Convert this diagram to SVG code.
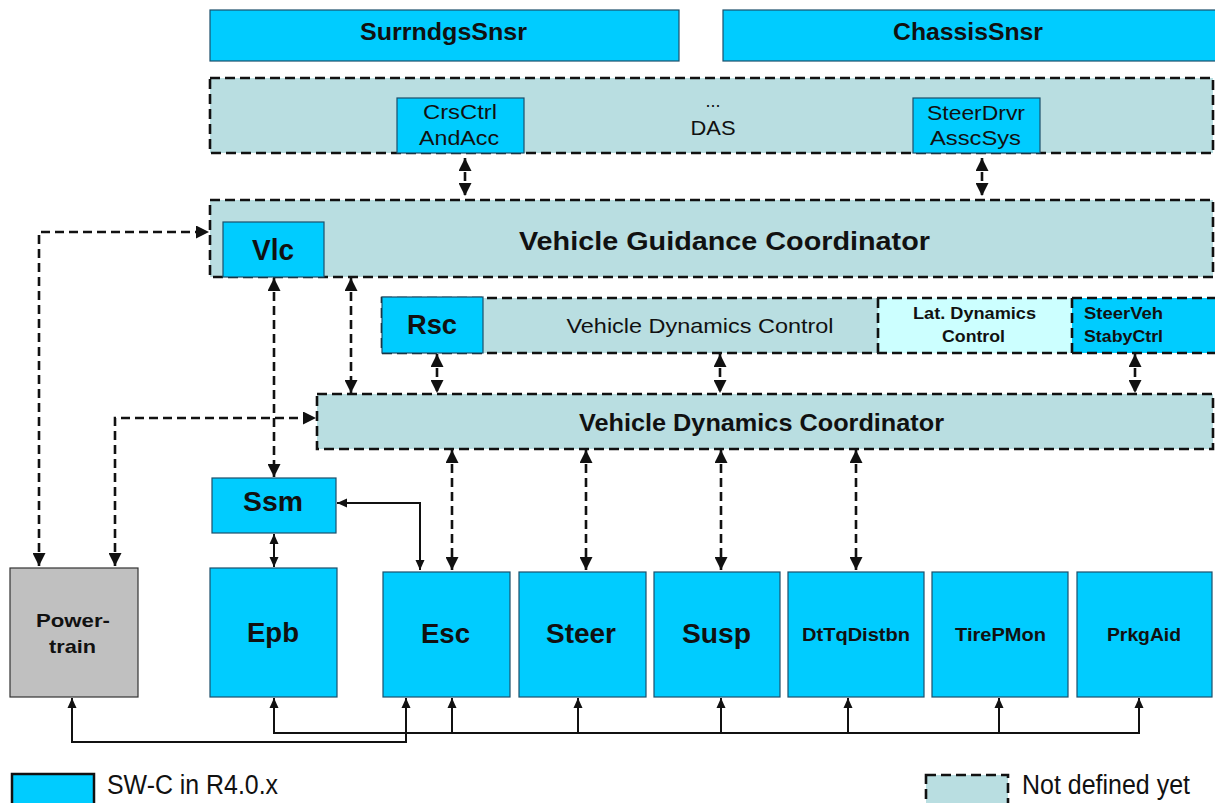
<svg xmlns="http://www.w3.org/2000/svg" width="1215" height="803" viewBox="0 0 1215 803">
<style>
text{font-family:"Liberation Sans",Arial,sans-serif;fill:#111;text-anchor:middle}
.b{font-weight:bold}
.swc{fill:#00ccff;stroke:#1b4f6b;stroke-width:1.2}
.nd{fill:#b9dee1;stroke:none}
.dash{fill:none;stroke:#111;stroke-width:2.6;stroke-dasharray:10 5}
.dl{fill:none;stroke:#111;stroke-width:2.6;stroke-dasharray:9 5;marker-start:url(#ah);marker-end:url(#ah)}
.sl{fill:none;stroke:#111;stroke-width:2}
</style>
<defs>
<marker id="ah" markerUnits="userSpaceOnUse" markerWidth="13" markerHeight="13" viewBox="0 0 12 12" refX="12" refY="6" orient="auto-start-reverse"><path d="M0,0 L12,6 L0,12 z" fill="#111"/></marker>
<marker id="as" markerUnits="userSpaceOnUse" markerWidth="10" markerHeight="10" viewBox="0 0 10 10" refX="10" refY="5" orient="auto-start-reverse"><path d="M0,0.5 L10,5 L0,9.5 z" fill="#111"/></marker>
</defs>

<g id="SurrndgsSnsr"><rect class="swc" x="210" y="10" width="469" height="51"/><text class="b" x="443.5" y="40" font-size="24" textLength="167" lengthAdjust="spacingAndGlyphs">SurrndgsSnsr</text></g>
<g id="ChassisSnsr"><rect class="swc" x="723" y="10" width="495" height="51"/><text class="b" x="968" y="40" font-size="24" textLength="150" lengthAdjust="spacingAndGlyphs">ChassisSnsr</text></g>

<g id="DAS"><rect class="nd" x="210" y="78" width="1003" height="75"/><rect class="dash" x="210" y="78" width="1003" height="75"/>
<text x="713" y="107" font-size="18">...</text><text x="713" y="135" font-size="20" textLength="45" lengthAdjust="spacingAndGlyphs">DAS</text></g>
<g id="CrsCtrlAndAcc"><rect class="swc" x="397" y="98" width="127" height="55"/><text x="460" y="119" font-size="20" textLength="74" lengthAdjust="spacingAndGlyphs">CrsCtrl</text><text x="459" y="145" font-size="20" textLength="80" lengthAdjust="spacingAndGlyphs">AndAcc</text></g>
<g id="SteerDrvrAsscSys"><rect class="swc" x="913" y="98" width="127" height="55"/><text x="976" y="120" font-size="20" textLength="98" lengthAdjust="spacingAndGlyphs">SteerDrvr</text><text x="975.5" y="145" font-size="20" textLength="91" lengthAdjust="spacingAndGlyphs">AsscSys</text></g>

<g id="VehicleGuidanceCoordinator"><rect class="nd" x="210" y="200" width="1003" height="77"/><rect class="dash" x="210" y="200" width="1003" height="77"/><text class="b" x="724.5" y="250" font-size="26" textLength="411" lengthAdjust="spacingAndGlyphs">Vehicle Guidance Coordinator</text></g>
<g id="Vlc"><rect class="swc" x="223" y="222" width="101" height="55"/><text class="b" x="273" y="260" font-size="29" textLength="42" lengthAdjust="spacingAndGlyphs">Vlc</text></g>

<g id="VehicleDynamicsControl"><rect class="nd" x="382" y="298" width="496" height="55"/><text x="700" y="333" font-size="21" textLength="267" lengthAdjust="spacingAndGlyphs">Vehicle Dynamics Control</text></g>
<g id="LatDynamicsControl"><rect x="878" y="298" width="194" height="55" fill="#ccffff"/><text class="b" x="974.5" y="319" font-size="16" textLength="123" lengthAdjust="spacingAndGlyphs">Lat. Dynamics</text><text class="b" x="973.5" y="342" font-size="16" textLength="63" lengthAdjust="spacingAndGlyphs">Control</text></g>
<g id="SteerVehStabyCtrl"><rect x="1072" y="298" width="146" height="55" fill="#00ccff"/><text class="b" x="1084" y="319" font-size="16" style="text-anchor:start" textLength="79" lengthAdjust="spacingAndGlyphs">SteerVeh</text><text class="b" x="1084" y="342" font-size="16" style="text-anchor:start" textLength="79" lengthAdjust="spacingAndGlyphs">StabyCtrl</text></g>
<g id="VdcRowOutline"><rect class="dash" x="382" y="298" width="840" height="55"/><line class="dash" x1="878" y1="298" x2="878" y2="353"/><line class="dash" x1="1072" y1="298" x2="1072" y2="353"/></g>
<g id="Rsc"><rect class="swc" x="382" y="297" width="101" height="56"/><text class="b" x="432" y="334" font-size="27" textLength="50" lengthAdjust="spacingAndGlyphs">Rsc</text></g>

<g id="VehicleDynamicsCoordinator"><rect class="nd" x="317" y="394" width="896" height="55"/><rect class="dash" x="317" y="394" width="896" height="55"/><text class="b" x="761.5" y="431" font-size="24" textLength="365" lengthAdjust="spacingAndGlyphs">Vehicle Dynamics Coordinator</text></g>

<g id="Ssm"><rect class="swc" x="212" y="478" width="124" height="55"/><text class="b" x="273" y="511" font-size="27" textLength="60" lengthAdjust="spacingAndGlyphs">Ssm</text></g>
<g id="Powertrain"><rect x="10" y="568" width="128" height="129" fill="#c0c0c0" stroke="#333" stroke-width="1.2"/><text class="b" x="73" y="627" font-size="19" fill="#222" textLength="74" lengthAdjust="spacingAndGlyphs">Power-</text><text class="b" x="72.5" y="653" font-size="19" textLength="47" lengthAdjust="spacingAndGlyphs">train</text></g>
<g id="Epb"><rect class="swc" x="210" y="568" width="127" height="129"/><text class="b" x="273" y="642" font-size="27" textLength="52" lengthAdjust="spacingAndGlyphs">Epb</text></g>
<g id="Esc"><rect class="swc" x="383" y="572" width="127" height="125"/><text class="b" x="445.5" y="643" font-size="27" textLength="49" lengthAdjust="spacingAndGlyphs">Esc</text></g>
<g id="Steer"><rect class="swc" x="519" y="572" width="127" height="125"/><text class="b" x="581" y="643" font-size="27" textLength="70" lengthAdjust="spacingAndGlyphs">Steer</text></g>
<g id="Susp"><rect class="swc" x="654" y="572" width="126" height="125"/><text class="b" x="716.5" y="643" font-size="27" textLength="69" lengthAdjust="spacingAndGlyphs">Susp</text></g>
<g id="DtTqDistbn"><rect class="swc" x="788" y="572" width="136" height="125"/><text class="b" x="856" y="641" font-size="18" textLength="108" lengthAdjust="spacingAndGlyphs">DtTqDistbn</text></g>
<g id="TirePMon"><rect class="swc" x="932" y="572" width="136" height="125"/><text class="b" x="1000.5" y="641" font-size="18" textLength="91" lengthAdjust="spacingAndGlyphs">TirePMon</text></g>
<g id="PrkgAid"><rect class="swc" x="1077" y="572" width="135" height="125"/><text class="b" x="1144" y="641" font-size="18" textLength="74" lengthAdjust="spacingAndGlyphs">PrkgAid</text></g>

<g id="connectors">
<line class="dl" x1="465" y1="158" x2="465" y2="196"/>
<line class="dl" x1="982" y1="158" x2="982" y2="196"/>
<line class="dl" x1="274" y1="278" x2="274" y2="477"/>
<line class="dl" x1="351" y1="278" x2="351" y2="393"/>
<line class="dl" x1="437" y1="354" x2="437" y2="393"/>
<line class="dl" x1="720" y1="354" x2="720" y2="393"/>
<line class="dl" x1="1135" y1="354" x2="1135" y2="393"/>
<line class="dl" x1="452" y1="450" x2="452" y2="570"/>
<line class="dl" x1="586" y1="450" x2="586" y2="570"/>
<line class="dl" x1="721" y1="450" x2="721" y2="570"/>
<line class="dl" x1="856" y1="450" x2="856" y2="570"/>
<polyline class="dl" points="39,566 39,232 209,232"/>
<polyline class="dl" points="115,566 115,418 316,418"/>
<line class="sl" x1="274" y1="534" x2="274" y2="567" marker-start="url(#as)" marker-end="url(#as)"/>
<polyline class="sl" points="337,503 420,503 420,570" marker-start="url(#as)" marker-end="url(#as)"/>
<polyline class="sl" points="274,698 274,733 1139,733 1139,698" marker-start="url(#as)" marker-end="url(#as)"/>
<line class="sl" x1="452" y1="733" x2="452" y2="698" marker-end="url(#as)"/>
<line class="sl" x1="578" y1="733" x2="578" y2="698" marker-end="url(#as)"/>
<line class="sl" x1="721" y1="733" x2="721" y2="698" marker-end="url(#as)"/>
<line class="sl" x1="848" y1="733" x2="848" y2="698" marker-end="url(#as)"/>
<line class="sl" x1="999" y1="733" x2="999" y2="698" marker-end="url(#as)"/>
<polyline class="sl" points="72,698 72,742 406,742 406,698" marker-start="url(#as)" marker-end="url(#as)"/>
</g>

<g id="legend">
<rect x="12" y="774" width="82" height="35" fill="#00ccff" stroke="#111" stroke-width="2.5"/>
<text x="107" y="794" font-size="27" style="text-anchor:start" textLength="171" lengthAdjust="spacingAndGlyphs">SW-C in R4.0.x</text>
<rect class="nd" x="926" y="775" width="82" height="35"/>
<rect class="dash" x="926" y="775" width="82" height="35"/>
<text x="1022" y="794" font-size="27" style="text-anchor:start" textLength="168" lengthAdjust="spacingAndGlyphs">Not defined yet</text>
</g>
</svg>
